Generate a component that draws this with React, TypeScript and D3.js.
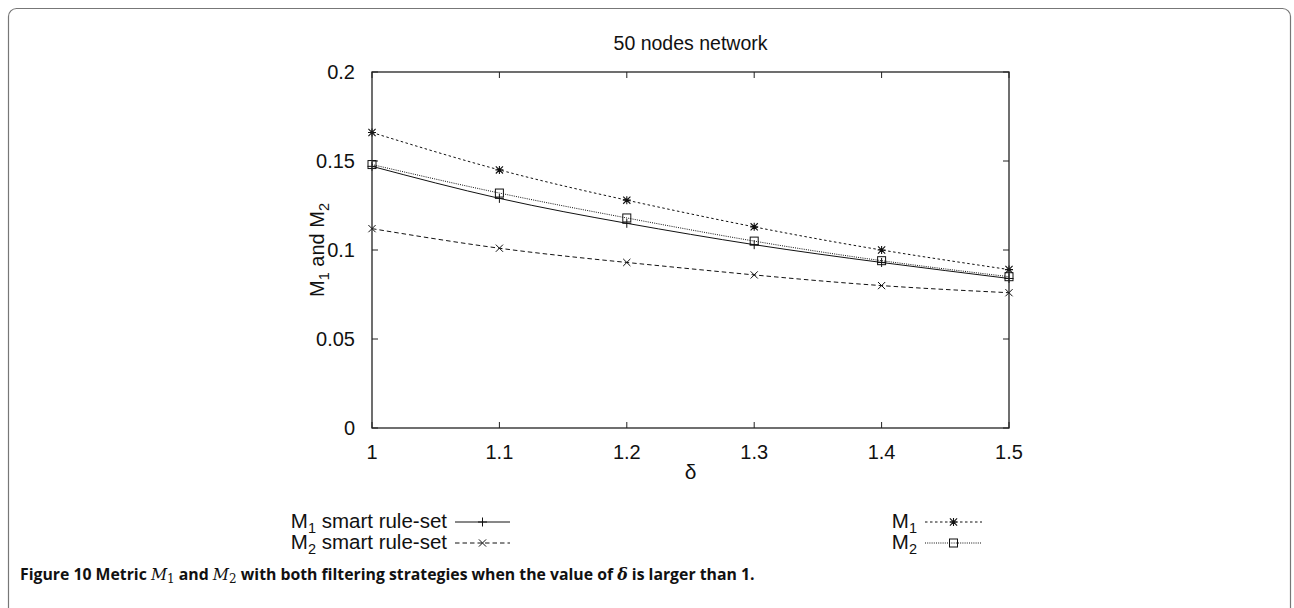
import React from "react";
import * as d3 from "d3";

const deltas = [1, 1.1, 1.2, 1.3, 1.4, 1.5];
const m1Smart = [0.147, 0.129, 0.115, 0.103, 0.093, 0.084];
const m2Smart = [0.112, 0.101, 0.093, 0.086, 0.080, 0.076];
const m1 = [0.166, 0.145, 0.128, 0.113, 0.100, 0.089];
const m2 = [0.148, 0.132, 0.118, 0.105, 0.094, 0.085];
const xTicks = [1, 1.1, 1.2, 1.3, 1.4, 1.5];
const yTicks = [0, 0.05, 0.1, 0.15, 0.2];

type MarkerKind = "plus" | "cross" | "star" | "square";

const seriesDefs: { sub: string; values: number[]; dash: string; marker: MarkerKind }[] = [
  { sub: "1 smart rule-set", values: m1Smart, dash: "none", marker: "plus" },
  { sub: "2 smart rule-set", values: m2Smart, dash: "4.5,3", marker: "cross" },
  { sub: "1", values: m1, dash: "2.5,2.5", marker: "star" },
  { sub: "2", values: m2, dash: "1,1.2", marker: "square" },
];

const FONT = "'Liberation Sans', Arial, Helvetica, sans-serif";
const SERIF = "'DejaVu Serif', 'Liberation Serif', serif";

function Marker({ kind, x, y }: { kind: MarkerKind; x: number; y: number }) {
  const s = 4.5;
  const plus = `M${x - s},${y}H${x + s}M${x},${y - s}V${y + s}`;
  const c = 3.6;
  const cross = `M${x - c},${y - c}L${x + c},${y + c}M${x - c},${y + c}L${x + c},${y - c}`;
  if (kind === "plus") return <path d={plus} stroke="#111" strokeWidth={1} fill="none" />;
  if (kind === "cross") return <path d={cross} stroke="#111" strokeWidth={1} fill="none" />;
  if (kind === "star")
    return <path d={`M${x - 4},${y}H${x + 4}M${x},${y - 4}V${y + 4}` + cross} stroke="#111" strokeWidth={1.1} fill="none" />;
  return <rect x={x - 4} y={y - 4} width={8} height={8} stroke="#111" strokeWidth={1} fill="none" />;
}

function Label({ x, y, sub, anchor }: { x: number; y: number; sub: string; anchor: string }) {
  // "M" followed by a subscript digit and optional trailing text
  const digit = sub[0];
  const rest = sub.slice(1);
  return (
    <text x={x} y={y} fontFamily={FONT} fontSize={20.5} textAnchor={anchor} fill="#111">
      M<tspan fontSize={14.5} dy={5}>{digit}</tspan>
      <tspan dy={-5}>{rest}</tspan>
    </text>
  );
}

export default function App() {
  const W = 1294;
  const H = 608;
  const left = 372, right = 1009, top = 72, bottom = 428;
  const x = d3.scaleLinear().domain([1, 1.5]).range([left, right]);
  const y = d3.scaleLinear().domain([0, 0.2]).range([bottom, top]);
  const line = d3
    .line<number>()
    .x((_, i) => x(deltas[i]))
    .y((v) => y(v))
    .curve(d3.curveNatural);

  const tick = 6;
  const legendRows = [
    { lx: 447, sx0: 455, sx1: 510, yy: 522 },
    { lx: 447, sx0: 455, sx1: 510, yy: 543 },
    { lx: 917, sx0: 925, sx1: 982, yy: 522 },
    { lx: 917, sx0: 925, sx1: 982, yy: 543 },
  ];

  return (
    <svg width={W} height={H} style={{ position: "absolute", left: 0, top: 0, background: "#fff" }}>
      <rect x={8.5} y={8.5} width={1282} height={620} rx={8} ry={8} fill="none" stroke="#777" strokeWidth={1.2} />

      <text x={(left + right) / 2} y={50} fontFamily={FONT} fontSize={19.5} textAnchor="middle" fill="#111">
        50 nodes network
      </text>

      {/* ticks mirrored on all four sides */}
      {xTicks.map((t) => (
        <g key={"x" + t}>
          <line x1={x(t)} x2={x(t)} y1={bottom} y2={bottom - tick} stroke="#222" />
          <line x1={x(t)} x2={x(t)} y1={top} y2={top + tick} stroke="#222" />
          <text x={x(t)} y={bottom + 31} fontFamily={FONT} fontSize={20} textAnchor="middle" fill="#111">
            {String(t)}
          </text>
        </g>
      ))}
      {yTicks.map((t) => (
        <g key={"y" + t}>
          <line x1={left} x2={left + tick} y1={y(t)} y2={y(t)} stroke="#222" />
          <line x1={right} x2={right - tick} y1={y(t)} y2={y(t)} stroke="#222" />
          <text x={left - 17} y={y(t) + 7} fontFamily={FONT} fontSize={20} textAnchor="end" fill="#111">
            {String(t)}
          </text>
        </g>
      ))}

      {seriesDefs.map((s, k) => (
        <g key={"s" + k}>
          <path d={line(s.values) || ""} fill="none" stroke="#111" strokeWidth={1} strokeDasharray={s.dash} />
          {s.values.map((v, i) => (
            <Marker key={i} kind={s.marker} x={x(deltas[i])} y={y(v)} />
          ))}
        </g>
      ))}

      <rect x={left} y={top} width={right - left} height={bottom - top} fill="none" stroke="#222" strokeWidth={1.3} />

      <text x={(left + right) / 2} y={479} fontFamily={FONT} fontSize={21} textAnchor="middle" fill="#111">
        δ
      </text>
      <text transform={`translate(324,${(top + bottom) / 2}) rotate(-90)`} fontFamily={FONT} fontSize={20} textAnchor="middle" fill="#111">
        M<tspan fontSize={14.5} dy={5}>1</tspan>
        <tspan dy={-5}> and M</tspan>
        <tspan fontSize={14.5} dy={5}>2</tspan>
      </text>

      {seriesDefs.map((s, k) => {
        const r = legendRows[k];
        return (
          <g key={"l" + k}>
            <Label x={r.lx} y={r.yy + 6} sub={s.sub} anchor="end" />
            <line x1={r.sx0} x2={r.sx1} y1={r.yy} y2={r.yy} stroke="#111" strokeWidth={1} strokeDasharray={s.dash} />
            <Marker kind={s.marker} x={(r.sx0 + r.sx1) / 2} y={r.yy} />
          </g>
        );
      })}

      <text x={20} y={580} fontFamily="'Open Sans', 'Liberation Sans', sans-serif" fontSize={15.8} fontWeight="bold" fill="#111">
        Figure 10 Metric{" "}
        <tspan fontFamily={SERIF} fontStyle="italic" fontWeight="normal">M</tspan>
        <tspan fontFamily={SERIF} fontWeight="normal" fontSize={12} dy={3}>1</tspan>
        <tspan dy={-3}> and </tspan>
        <tspan fontFamily={SERIF} fontStyle="italic" fontWeight="normal">M</tspan>
        <tspan fontFamily={SERIF} fontWeight="normal" fontSize={12} dy={3}>2</tspan>
        <tspan dy={-3}> with both filtering strategies when the value of </tspan>
        <tspan fontFamily={SERIF} fontStyle="italic">δ</tspan>
        <tspan> is larger than 1.</tspan>
      </text>
    </svg>
  );
}
